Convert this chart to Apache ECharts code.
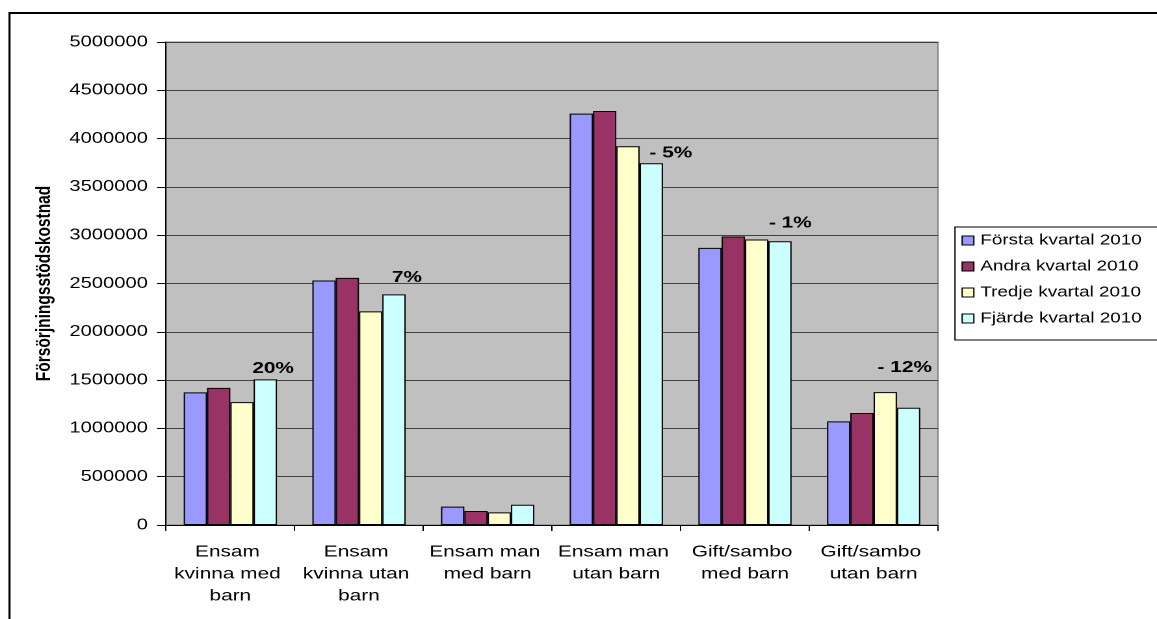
<!DOCTYPE html>
<html>
<head>
<meta charset="utf-8">
<script src="https://cdn.jsdelivr.net/npm/echarts@6/dist/echarts.min.js"></script>
<style>
  html, body { margin: 0; padding: 0; background: #fff; overflow: hidden; }
  #wrap { width: 1157px; height: 619px; overflow: hidden; position: relative; }
  #chart { width: 890px; height: 619px; transform: scaleX(1.3); transform-origin: 0 0; }
</style>
</head>
<body>
<div id="wrap"><div id="chart"></div></div>
<script>
// ---- data ----
const categories = ['Ensam kvinna med barn', 'Ensam kvinna utan barn', 'Ensam man med barn', 'Ensam man utan barn', 'Gift/sambo med barn', 'Gift/sambo utan barn'];
const seriesNames = ['Första kvartal 2010', 'Andra kvartal 2010', 'Tredje kvartal 2010', 'Fjärde kvartal 2010'];
const q1 = [1373000, 2531000, 190000, 4259000, 2869000, 1073000];
const q2 = [1420000, 2558000, 145000, 4286000, 2987000, 1159000];
const q3 = [1272000, 2211000, 131000, 3921000, 2956000, 1376000];
const q4 = [1507000, 2387000, 210000, 3745000, 2938000, 1214000];
const changeLabels = ['20%', '7%', '', '- 5%', '- 1%', '- 12%'];
const yMin = 0, yMax = 5000000, yStep = 500000;
const yTitle = 'Försörjningsstödskostnad';

// ---- styles ----
const colors = ['#9999FF', '#993366', '#FFFFCC', '#CCFFFF'];
const labelOffsets = [[6, -3], [10, -9], [0, 0], [15, -2], [8, -10], [-3, -32]];
const FONT = 'Arial, "Liberation Sans", sans-serif';

const chart = echarts.init(document.getElementById('chart'), null, { renderer: 'canvas', devicePixelRatio: 2 });

const allValues = [q1, q2, q3, q4];
const series = allValues.map((vals, si) => {
  const s = {
    name: seriesNames[si],
    type: 'bar',
    barGap: '0%',
    barCategoryGap: '27.5%',
    itemStyle: { color: colors[si], borderColor: '#000', borderWidth: 1 },
    emphasis: { disabled: true },
    animation: false
  };
  if (si === 3) {
    s.data = vals.map((v, i) => ({
      value: v,
      label: {
        show: changeLabels[i] !== '',
        position: 'top',
        distance: 0,
        offset: labelOffsets[i],
        formatter: changeLabels[i],
        fontFamily: FONT,
        fontWeight: 'bold',
        fontSize: 16,
        color: '#000'
      }
    }));
  } else {
    s.data = vals;
  }
  return s;
});

const option = {
  animation: false,
  grid: {
    left: 127.7, right: 168.5, top: 42, bottom: 94,
    show: true, backgroundColor: '#C0C0C0', borderColor: '#808080', borderWidth: 1
  },
  legend: {
    orient: 'vertical',
    left: 734.6,
    top: 227,
    data: seriesNames,
    backgroundColor: '#fff',
    borderColor: '#000',
    borderWidth: 1,
    padding: [6, 60, 14, 5],
    itemWidth: 9,
    itemHeight: 9,
    itemGap: 11,
    icon: 'rect',
    itemStyle: { borderColor: '#000', borderWidth: 1 },
    textStyle: { fontFamily: FONT, fontSize: 14.5, color: '#000' },
    selectedMode: false
  },
  xAxis: {
    type: 'category',
    data: categories,
    axisLine: { lineStyle: { color: '#000', width: 1 } },
    axisTick: { show: true, length: 6, lineStyle: { color: '#000' } },
    axisLabel: {
      fontFamily: FONT, fontSize: 16, color: '#000', margin: 16,
      lineHeight: 22, width: 90, overflow: 'break', interval: 0, align: 'center'
    }
  },
  yAxis: {
    type: 'value',
    min: yMin, max: yMax, interval: yStep,
    name: yTitle,
    nameLocation: 'middle',
    nameGap: 75,
    nameRotate: 90,
    nameTextStyle: { fontFamily: FONT, fontSize: 15.5, fontWeight: 'bold', color: '#000' },
    axisLine: { show: true, lineStyle: { color: '#000', width: 1 } },
    axisTick: { show: true, length: 7, lineStyle: { color: '#000' } },
    axisLabel: { fontFamily: FONT, fontSize: 15.5, color: '#000', margin: 14, formatter: (v) => String(v) },
    splitLine: { show: true, lineStyle: { color: '#404040', width: 1 } }
  },
  graphic: [
    { type: 'line', shape: { x1: 7, y1: 13, x2: 900, y2: 13 }, style: { stroke: '#000', lineWidth: 2 }, silent: true },
    { type: 'line', shape: { x1: 7.3, y1: 12, x2: 7.3, y2: 640 }, style: { stroke: '#000', lineWidth: 1.6 }, silent: true }
  ],
  series: series
};

chart.setOption(option);
</script>
</body>
</html>
